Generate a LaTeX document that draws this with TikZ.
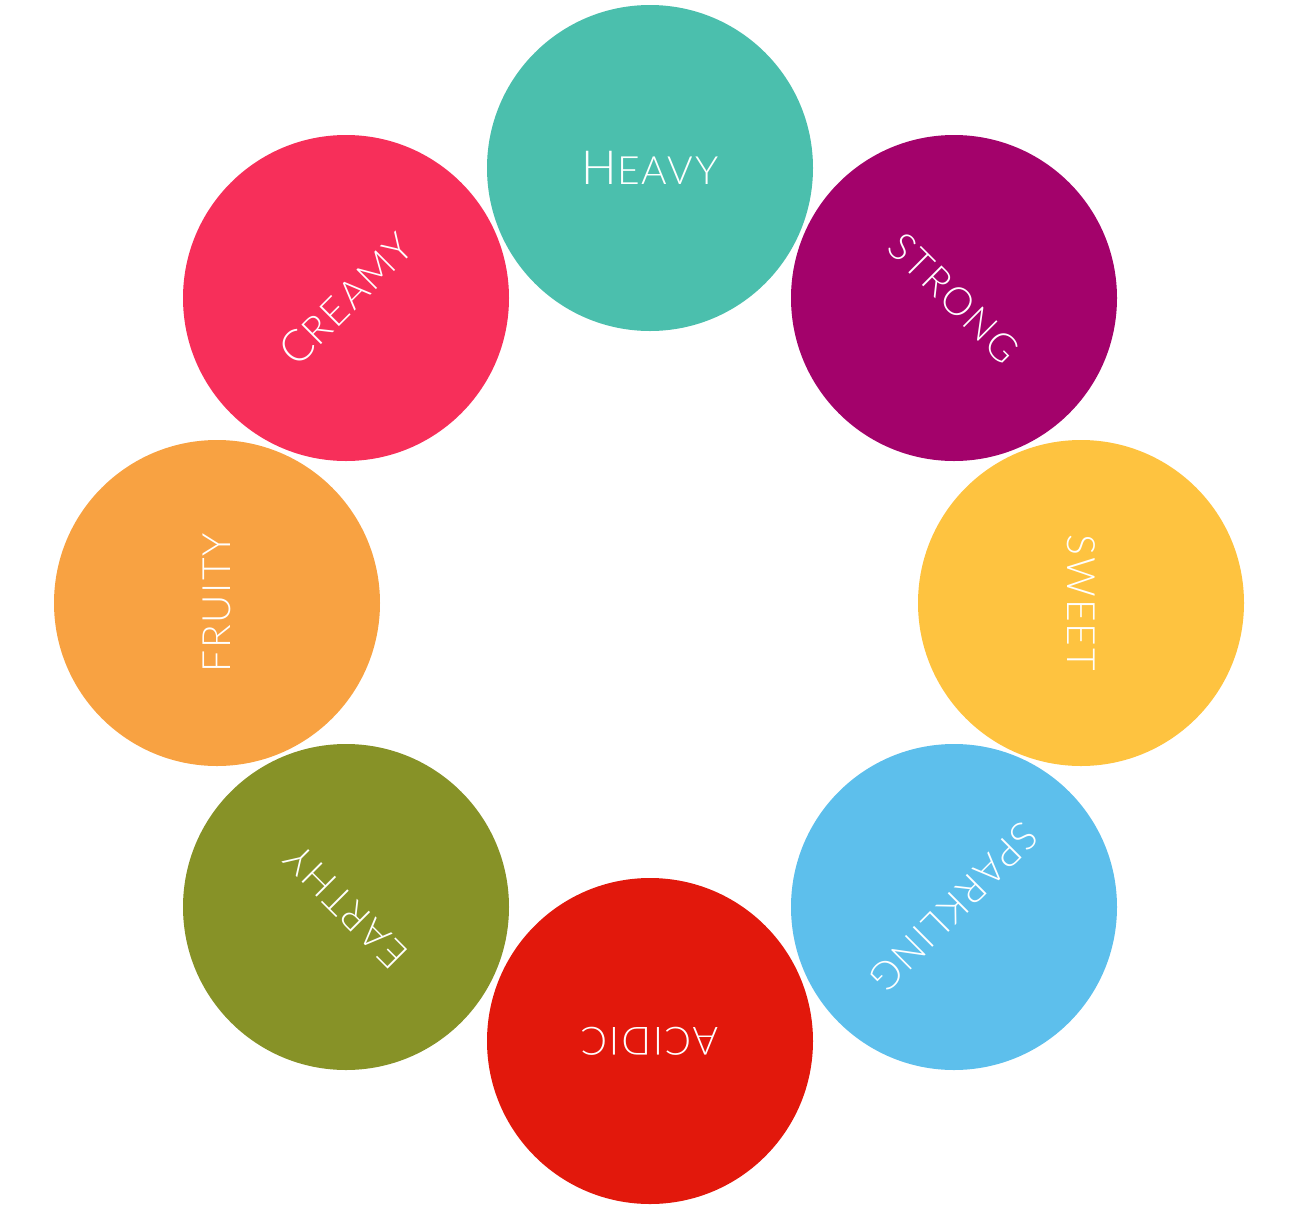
\documentclass[tikz,border=0pt]{standalone}
\usepackage{fontspec}
\newfontfamily\lbl{Lato}[UprightFont=* Light, LetterSpace=5]
\definecolor{cHeavy}{HTML}{4BBFAD}
\definecolor{cStrong}{HTML}{A3026B}
\definecolor{cSweet}{HTML}{FEC340}
\definecolor{cSpark}{HTML}{5DBFEC}
\definecolor{cAcidic}{HTML}{E2180C}
\definecolor{cEarthy}{HTML}{879227}
\definecolor{cFruity}{HTML}{F8A242}
\definecolor{cCreamy}{HTML}{F72F5A}
\tikzset{
  blob/.style={circle, fill=#1, draw=none, minimum size=326pt, inner sep=0pt},
  word/.style={text=white, font=\lbl\fontsize{39}{42}\selectfont, inner sep=0pt}
}
\begin{document}
\begin{tikzpicture}[x=1pt,y=-1pt]
\useasboundingbox (0,0) rectangle (1296,1208);
\node[blob=cHeavy]  (heavy)  at (650,168)  {};
\node[blob=cStrong] (strong) at (954,298)  {};
\node[blob=cSweet]  (sweet)  at (1081,603) {};
\node[blob=cSpark]  (spark)  at (954,907)  {};
\node[blob=cAcidic] (acidic) at (650,1041) {};
\node[blob=cEarthy] (earthy) at (346,907)  {};
\node[blob=cFruity] (fruity) at (217,603)  {};
\node[blob=cCreamy] (creamy) at (346,298)  {};
\node[word] (theavy)  at (heavy)  {{\fontsize{47}{50}\selectfont H}EAVY};
\node[word, rotate=-45]  (tstrong) at (strong) {STRONG};
\node[word, rotate=-90]  (tsweet)  at (sweet)  {SWEET};
\node[word, rotate=-135] (tspark)  at (spark)  {SPARKLING};
\node[word, rotate=180]  (tacidic) at (acidic) {ACIDIC};
\node[word, rotate=135]  (tearthy) at (earthy) {EARTHY};
\node[word, rotate=90]   (tfruity) at (fruity) {FRUITY};
\node[word, rotate=45]   (tcreamy) at (creamy) {{\fontsize{44}{46}\selectfont C}REAMY};
\end{tikzpicture}
\end{document}
